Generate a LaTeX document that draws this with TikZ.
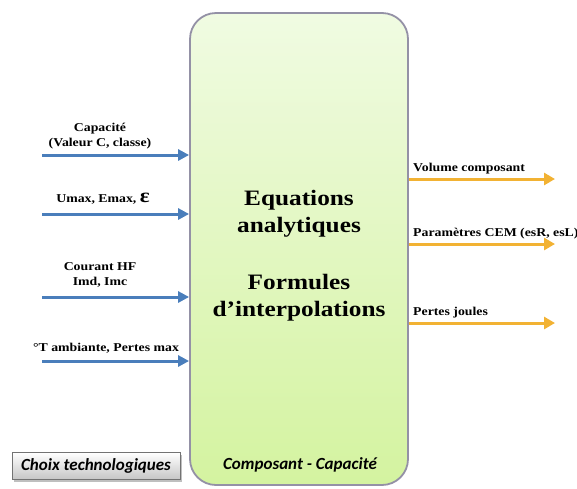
\documentclass[tikz,border=0pt]{standalone}
\usepackage{fontspec}
\setmainfont{Liberation Serif}[FakeStretch=1.15]
\newfontfamily\calfont{Carlito}
\usepackage{tikz}
\usetikzlibrary{arrows.meta,positioning,shadows}
\definecolor{flecheBleu}{HTML}{4A7EBB}
\definecolor{flecheOr}{HTML}{F2B233}
\definecolor{vertHaut}{HTML}{F0FBE2}
\definecolor{vertBas}{HTML}{D4F3A0}
\definecolor{bordGris}{HTML}{9491A6}

\begin{document}
\begin{tikzpicture}[x=1pt,y=-1pt,
  entree/.style={flecheBleu,line width=3pt,-{Triangle[length=11pt,width=11pt]}},
  sortie/.style={flecheOr,line width=3pt,-{Triangle[length=11pt,width=12pt]}},
  lbl/.style={font=\bfseries\fontsize{12}{15}\selectfont,align=center,inner sep=0pt},
  titre/.style={font=\bfseries\fontsize{22}{27}\selectfont,align=center,inner sep=0pt}]
\useasboundingbox (0,0) rectangle (577,488);
\node[draw=bordGris,line width=1.8pt,rounded corners=26pt,top color=vertHaut,bottom color=vertBas,
  minimum width=218pt,minimum height=472pt] (bloc) at (299,249) {};
\node[titre] (eq) at (299,214) {Equations\\analytiques};
\node[titre] (fi) at (299,298) {Formules\\d’interpolations};
\node[font=\calfont\bfseries\itshape\fontsize{17}{19}\selectfont] (nom) at (300,465) {Composant - Capacité};
\node[draw=gray!90!black,top color=white,bottom color=gray!45,drop shadow,minimum width=168pt,minimum height=27pt,
  font=\calfont\bfseries\itshape\fontsize{17}{19}\selectfont] (choix) at (96,466) {Choix technologiques};
\coordinate (e1) at (42,155);
\coordinate (e2) at (42,214);
\coordinate (e3) at (42,297);
\coordinate (e4) at (42,361);
\draw[entree] (e1) -- (e1 -| bloc.west);
\draw[entree] (e2) -- (e2 -| bloc.west);
\draw[entree] (e3) -- (e3 -| bloc.west);
\draw[entree] (e4) -- (e4 -| bloc.west);
\node[lbl] (l1) at (100,136) {Capacité\\(Valeur C, classe)};
\node[lbl,anchor=base] (l2) at (103,202) {Umax, Emax, {\fontsize{20}{20}\selectfont ε}};
\node[lbl] (l3) at (100,275) {Courant HF\\Imd, Imc};
\node[lbl,anchor=base] (l4) at (106,351) {°T ambiante, Pertes max};
\coordinate (s1) at (555,179);
\coordinate (s2) at (555,244);
\coordinate (s3) at (555,323);
\draw[sortie] (s1 -| bloc.east) -- (s1);
\draw[sortie] (s2 -| bloc.east) -- (s2);
\draw[sortie] (s3 -| bloc.east) -- (s3);
\node[lbl,anchor=base west] (r1) at (413,171) {Volume composant};
\node[lbl,anchor=base west] (r2) at (413,236) {Paramètres CEM (esR, esL)};
\node[lbl,anchor=base west] (r3) at (413,315) {Pertes joules};
\end{tikzpicture}
\end{document}
